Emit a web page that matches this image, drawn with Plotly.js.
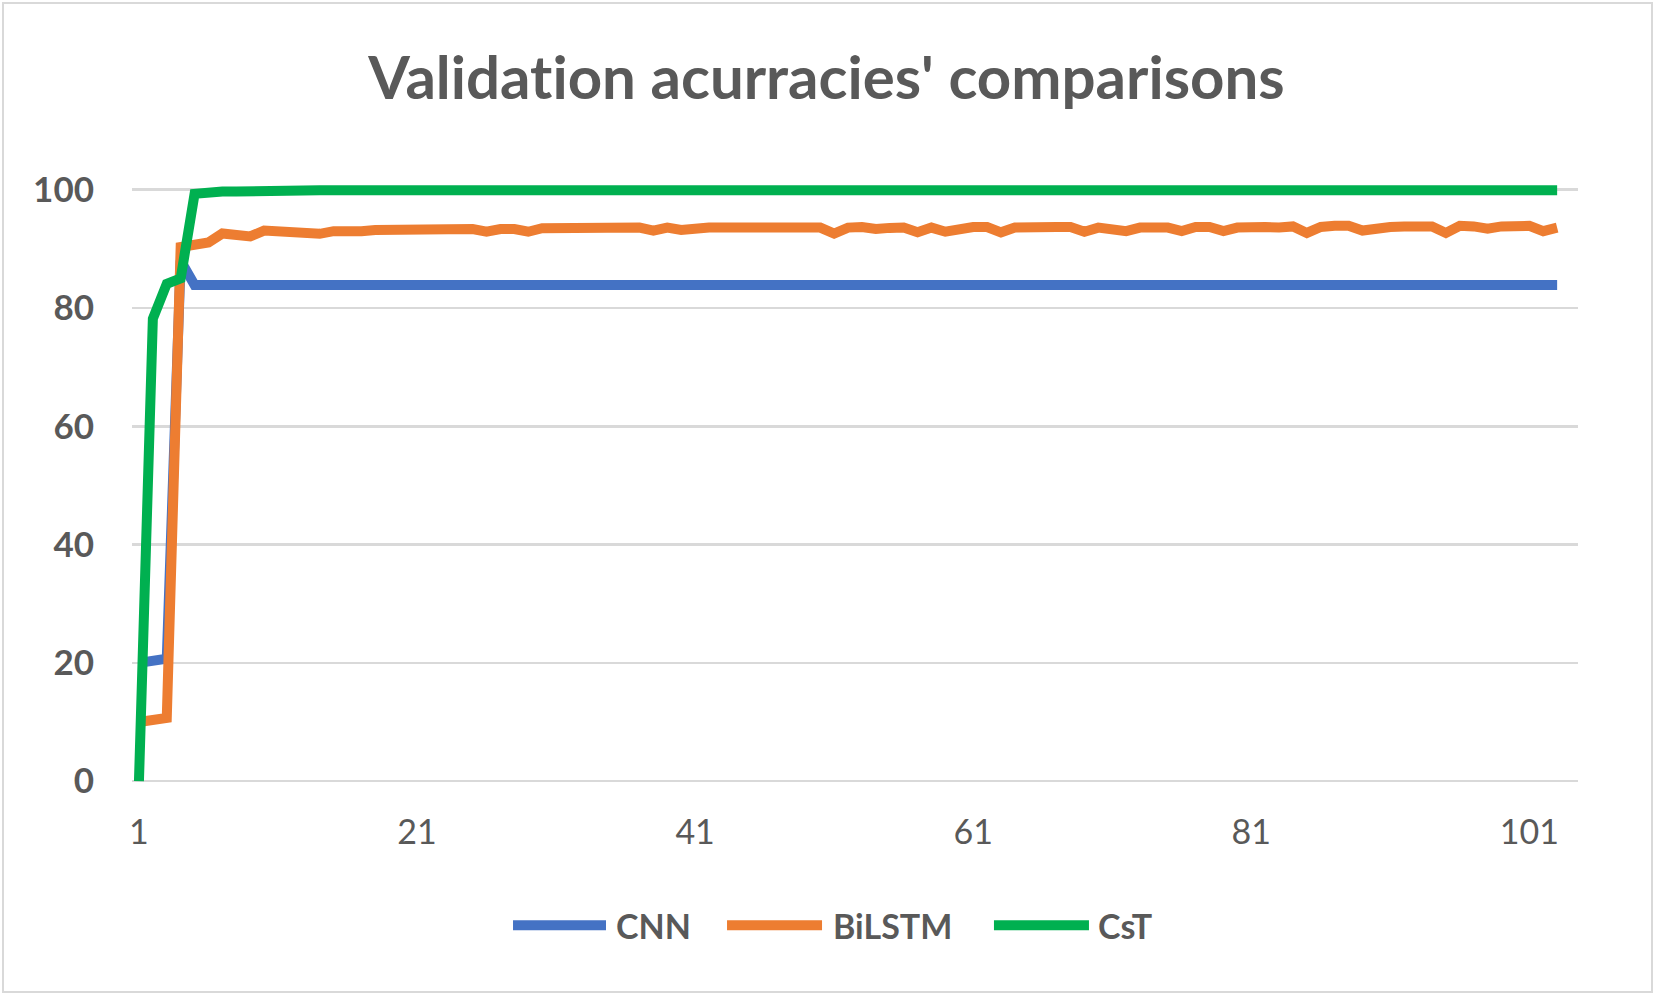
<!DOCTYPE html>
<html>
<head>
<meta charset="utf-8">
<script src="https://cdn.plot.ly/plotly-3.0.1.min.js"></script>
<style>
  html, body { margin: 0; padding: 0; background: #ffffff; }
  #chart { width: 1653px; height: 993px; }
  #chart text { font-variant-ligatures: none; font-feature-settings: "liga" 0, "clig" 0; }
  #frame { position: absolute; left: 2px; top: 2px; width: 1647px; height: 987px; border: 2px solid #d9d9d9; pointer-events: none; }
</style>
</head>
<body>
<div id="chart"></div>
<div id="frame"></div>
<script>
const seriesNames = ["CNN", "BiLSTM", "CsT"];
const seriesColors = ["#4472c4", "#ed7d31", "#00b050"];

const epochs = [
  1,2,3,4,5,6,7,8,9,10,11,12,13,14,15,16,17,18,19,20,
  21,22,23,24,25,26,27,28,29,30,31,32,33,34,35,36,37,38,39,40,
  41,42,43,44,45,46,47,48,49,50,51,52,53,54,55,56,57,58,59,60,
  61,62,63,64,65,66,67,68,69,70,71,72,73,74,75,76,77,78,79,80,
  81,82,83,84,85,86,87,88,89,90,91,92,93,94,95,96,97,98,99,100,
  101,102,103
];

const cnn = [
  20,20.5,20.7,88,83.9,83.9,83.9,83.9,83.9,83.9,83.9,83.9,83.9,83.9,83.9,83.9,83.9,83.9,83.9,83.9,
  83.9,83.9,83.9,83.9,83.9,83.9,83.9,83.9,83.9,83.9,83.9,83.9,83.9,83.9,83.9,83.9,83.9,83.9,83.9,83.9,
  83.9,83.9,83.9,83.9,83.9,83.9,83.9,83.9,83.9,83.9,83.9,83.9,83.9,83.9,83.9,83.9,83.9,83.9,83.9,83.9,
  83.9,83.9,83.9,83.9,83.9,83.9,83.9,83.9,83.9,83.9,83.9,83.9,83.9,83.9,83.9,83.9,83.9,83.9,83.9,83.9,
  83.9,83.9,83.9,83.9,83.9,83.9,83.9,83.9,83.9,83.9,83.9,83.9,83.9,83.9,83.9,83.9,83.9,83.9,83.9,83.9,
  83.9,83.9,83.9
];

const bilstm = [
  10,10.5,10.7,90.3,90.8,91.1,92.6,92.3,92.1,93.1,92.95,92.85,93.0,92.55,93.0,92.85,93.0,93.2,93.2,93.35,
  93.35,93.35,93.35,93.1,93.35,92.9,93.35,93.35,92.9,93.5,93.5,93.3,93.4,93.4,93.5,93.7,93.6,93.1,93.6,93.2,
  93.6,93.6,93.6,93.6,93.6,93.6,93.6,93.2,93.55,93.6,92.6,93.6,93.7,93.35,93.55,93.6,92.8,93.6,92.9,93.35,
  93.7,93.7,92.8,93.6,93.5,93.7,93.7,93.7,92.9,93.6,93.4,93.0,93.6,93.6,93.6,93.0,93.7,93.7,93.0,93.6,
  93.8,93.7,93.6,93.8,92.7,93.7,93.9,93.9,93.1,93.6,93.7,93.8,93.9,93.8,92.7,93.9,93.8,93.4,93.8,93.7,
  93.9,93.0,93.6
];

const cst = [
  0,78.2,84.1,85,99.3,99.6,99.7,99.7,99.8,99.6,99.6,99.7,99.9,99.9,99.9,99.9,99.9,99.9,99.6,99.9,
  99.9,99.9,99.9,99.9,99.9,99.9,99.9,99.9,99.9,99.9,99.9,99.9,99.9,99.9,99.9,99.9,99.9,99.9,99.9,99.9,
  99.9,99.9,99.9,99.9,99.9,99.9,99.9,99.9,99.9,99.9,99.9,99.9,99.9,99.9,99.9,99.9,99.9,99.9,99.9,99.9,
  99.9,99.9,99.9,99.9,99.9,99.9,99.9,99.9,99.9,99.9,99.9,100,99.9,99.9,99.9,99.9,99.9,99.9,99.9,99.9,
  99.9,99.9,99.9,99.9,99.9,99.9,99.9,99.9,100,99.9,99.9,99.9,99.9,99.9,99.9,99.9,99.9,99.9,99.9,99.9,
  99.9,99.9,99.9
];

const xTickVals = [1, 21, 41, 61, 81, 101];
const yTickVals = [0, 20, 40, 60, 80, 100];
const chartTitle = "Validation acurracies' comparisons";

const allSeries = [cnn, bilstm, cst];
const traces = allSeries.map((ys, i) => ({
  type: "scatter",
  mode: "lines",
  x: epochs,
  y: ys,
  name: seriesNames[i],
  line: { color: seriesColors[i], width: 10, shape: "linear" },
  showlegend: false,
  hoverinfo: "skip"
}));

// custom legend (long line swatches as in the reference)
const legendY = -0.219;
const legendItems = [
  { x0: 0.2635, x1: 0.3278, tx: 0.3333 },
  { x0: 0.4115, x1: 0.4772, tx: 0.4834 },
  { x0: 0.5961, x1: 0.6618, tx: 0.6667 }
];
const shapes = legendItems.map((it, i) => ({
  type: "line", xref: "paper", yref: "paper",
  x0: it.x0, x1: it.x1, y0: legendY, y1: legendY,
  line: { color: seriesColors[i], width: 10 }
}));
const annotations = legendItems.map((it, i) => ({
  xref: "paper", yref: "paper", x: it.tx, y: legendY,
  xanchor: "left", yanchor: "middle", showarrow: false,
  text: "<b>" + seriesNames[i] + "</b>",
  font: { family: "Lato, sans-serif", size: 34, color: "#595959" }
}));

const layout = {
  width: 1653, height: 993,
  paper_bgcolor: "#ffffff", plot_bgcolor: "#ffffff",
  margin: { l: 132, r: 75, t: 172, b: 203, pad: 0 },
  title: {
    text: "<b>" + chartTitle + "</b>",
    x: 0.5, xref: "container", xanchor: "center",
    y: 0.921, yref: "container", yanchor: "middle",
    font: { family: "Lato, sans-serif", size: 60, color: "#595959" }
  },
  xaxis: {
    type: "linear", range: [0.5, 104.5],
    tickmode: "array", tickvals: xTickVals, ticktext: xTickVals.map(String),
    showgrid: false, zeroline: false, showline: false, ticks: "",
    ticklabelstandoff: 19,
    tickfont: { family: "Lato, sans-serif", size: 34, color: "#595959" }
  },
  yaxis: {
    range: [-1.5, 103],
    tickmode: "array", tickvals: yTickVals, ticktext: yTickVals.map(v => "<b>" + v + "</b>"),
    showgrid: true, gridcolor: "#d9d9d9", gridwidth: 2.5,
    zeroline: false, showline: false, ticks: "",
    ticklabelstandoff: 37,
    tickfont: { family: "Lato, sans-serif", size: 35, color: "#595959" }
  },
  shapes: shapes,
  annotations: annotations,
  showlegend: false
};

Plotly.newPlot("chart", traces, layout, { displayModeBar: false, staticPlot: true });
</script>
</body>
</html>
